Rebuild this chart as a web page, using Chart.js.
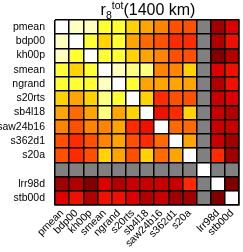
<!DOCTYPE html>
<html><head><meta charset="utf-8">
<script src="https://cdn.jsdelivr.net/npm/chart.js@4"></script>
<style>
html,body{margin:0;padding:0;background:#fff;}
#wrap{position:relative;width:243px;height:252px;}
#title{position:absolute;left:55px;width:186px;top:1px;text-align:center;font:16px "Liberation Sans",Arial,sans-serif;line-height:17px;color:#000;}
#title sub,#title sup{font-size:10.5px;line-height:0;}
canvas{display:block;}
</style></head><body>
<div id="wrap"><canvas id="c" width="243" height="252"></canvas><div id="title">r<sub>8</sub><sup>tot</sup>(1400 km)</div></div>
<script>
// Models (rows top→bottom, columns left→right); '' is the grey separator
const models = ['pmean','bdp00','kh00p','smean','ngrand','s20rts','sb4l18','saw24b16','s362d1','s20a','','lrr98d','stb00d'];

// Correlation r8tot(1400 km); null = separator
const corr = [
  [1.00,0.93,0.93,0.86,0.86,0.82,0.78,0.75,0.66,0.67,null,0.42,0.54],
  [0.93,1.00,0.86,0.82,0.86,0.78,0.70,0.66,0.62,0.62,null,0.46,0.58],
  [0.93,0.86,1.00,0.86,0.86,0.82,0.78,0.75,0.65,0.66,null,0.38,0.46],
  [0.86,0.82,0.86,1.00,0.93,0.89,0.88,0.72,0.74,0.82,null,0.54,0.58],
  [0.86,0.86,0.86,0.93,1.00,0.86,0.78,0.78,0.78,0.77,null,0.46,0.58],
  [0.82,0.78,0.82,0.89,0.86,1.00,0.82,0.62,0.66,0.67,null,0.51,0.54],
  [0.78,0.70,0.78,0.88,0.78,0.82,1.00,0.58,0.62,0.82,null,0.50,0.46],
  [0.75,0.66,0.75,0.72,0.78,0.62,0.58,1.00,0.70,0.70,null,0.49,0.50],
  [0.66,0.62,0.65,0.74,0.78,0.66,0.62,0.70,1.00,0.78,null,0.49,0.42],
  [0.67,0.62,0.66,0.82,0.77,0.67,0.82,0.70,0.78,1.00,null,0.62,0.42],
  [null,null,null,null,null,null,null,null,null,null,1.00,null,null],
  [0.42,0.46,0.38,0.54,0.46,0.51,0.50,0.49,0.49,0.62,null,1.00,0.38],
  [0.54,0.58,0.46,0.58,0.58,0.54,0.46,0.50,0.42,0.42,null,0.38,1.00]
];

// discrete colour scale: [lower bound, colour]
const scaleBounds = [0.97,0.91,0.875,0.84,0.80,0.76,0.72,0.68,0.64,0.60,0.56,0.52,0.48,0.44,0.40,-1];
const scaleColors = ['#ffffff','#ffffc0','#ffff80','#ffff33','#ffd200','#ffa500','#ff8400','#ff6a00','#ff5000','#ff2a00','#ee1000','#dd0000','#c80000','#b00000','#a00000','#800000'];
const gapColor = '#808080';

function colorFor(v){
  if (v === null) return gapColor;
  for (let i=0;i<scaleBounds.length;i++) if (v >= scaleBounds[i]) return scaleColors[i];
  return scaleColors[scaleColors.length-1];
}

const FONT = {family:'"Liberation Sans", Arial, sans-serif', size:10.5};

const datasets = corr.map((row, r) => ({
  label: models[r] || 'gap',
  data: row.map(() => 1),
  backgroundColor: row.map(colorFor),
  borderWidth: 0,
  barPercentage: 1,
  categoryPercentage: 1,
  stack: 's'
}));

new Chart(document.getElementById('c'), {
  type: 'bar',
  data: { labels: models, datasets },
  options: {
    responsive: false,
    animation: false,
    events: [],
    layout: { padding: { top: 20, right: 2, left: 0, bottom: 0 } },
    plugins: { legend: { display: false }, tooltip: { enabled: false }, title: { display: false } },
    scales: {
      x: {
        type: 'category',
        stacked: true,
        offset: true,
        z: 1,
        grid: { offset: true, color: '#000', lineWidth: 1.5, drawTicks: false, z: 1 },
        border: { display: true, color: '#000', width: 1.5, z: 1 },
        ticks: { minRotation: 45, maxRotation: 45, autoSkip: false, font: FONT, color: '#000', padding: 2 },
        afterFit(s){ s.height = 47; }
      },
      y: {
        type: 'linear',
        stacked: true,
        min: 0, max: models.length,
        reverse: true,
        grid: { display: false },
        border: { display: false },
        afterBuildTicks(s){ s.ticks = models.map((_, i) => ({ value: i + 0.5 })); },
        ticks: { font: FONT, color: '#000', padding: 2, autoSkip: false, callback: (v, i) => models[i] },
        afterFit(s){ s.width = 55; }
      },
      yg: {
        type: 'linear',
        position: 'right',
        min: 0, max: models.length,
        reverse: true,
        z: 1,
        grid: { color: '#000', lineWidth: 1.5, drawTicks: false, z: 1 },
        border: { display: true, color: '#000', width: 1.5, z: 1 },
        ticks: { display: false, stepSize: 1 },
        afterFit(s){ s.width = 0; }
      }
    }
  }
});
</script>
</body></html>
